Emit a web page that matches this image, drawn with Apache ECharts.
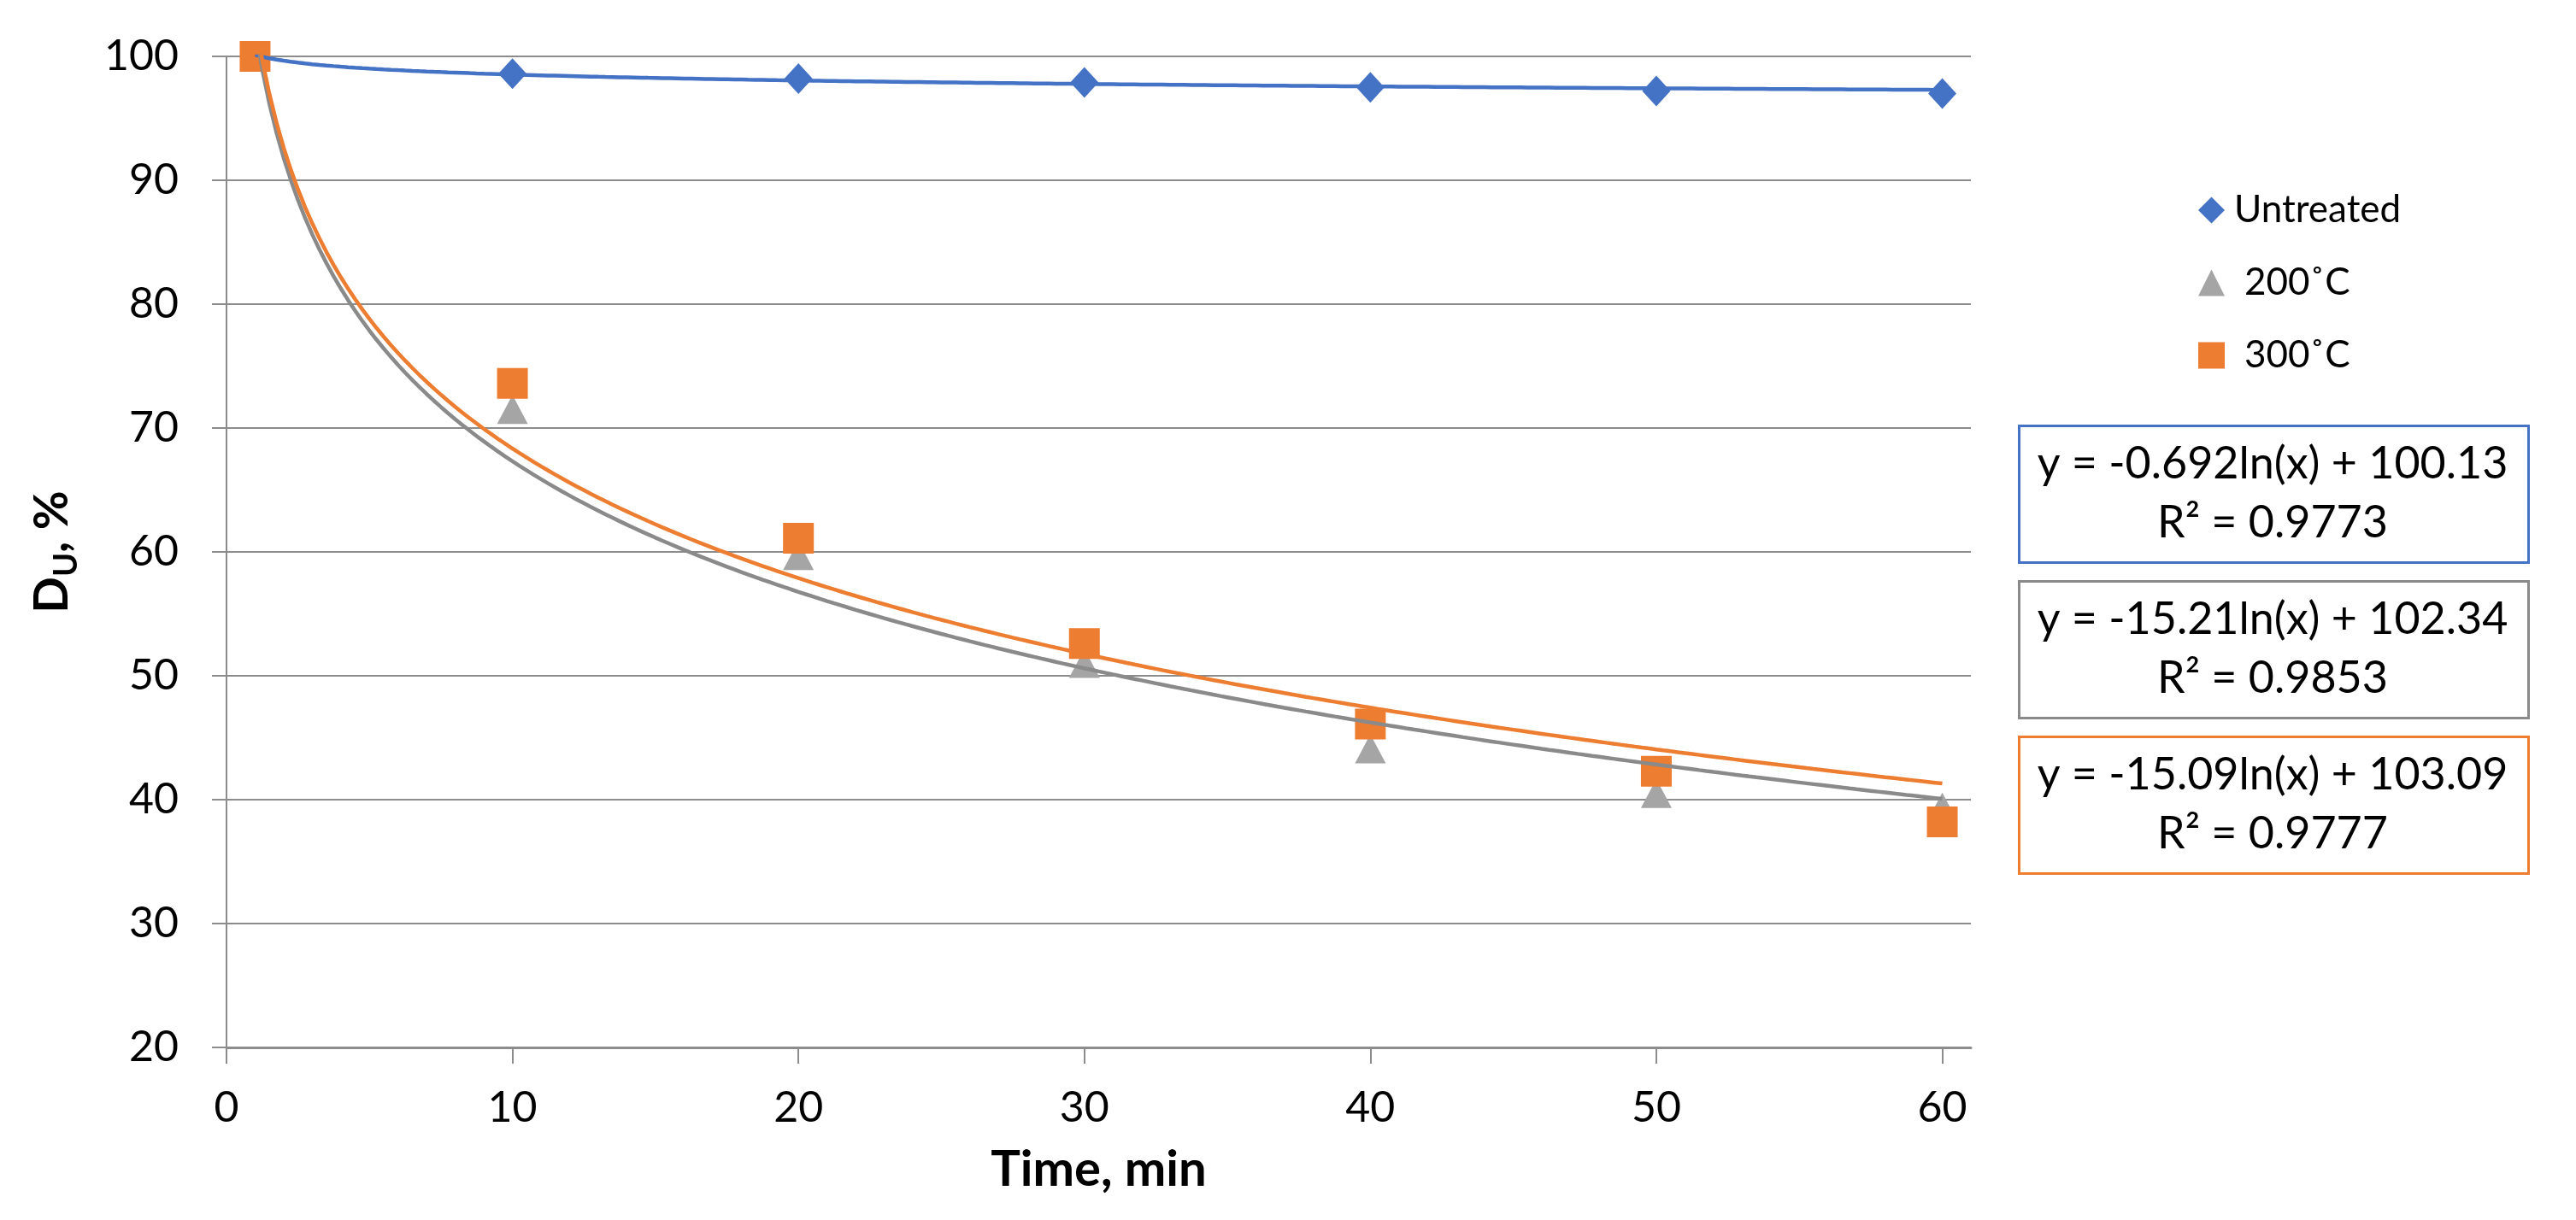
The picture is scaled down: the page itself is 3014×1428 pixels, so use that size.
<!DOCTYPE html>
<html>
<head>
<meta charset="utf-8">
<script src="https://cdn.jsdelivr.net/npm/echarts@6/dist/echarts.min.js"></script>
<style>
html,body{margin:0;padding:0;background:#fff;}
#chart{width:3014px;height:1428px;}
</style>
</head>
<body>
<div id="chart"></div>
<script>
// ---- data ----
const timeMin = [1, 10, 20, 30, 40, 50, 60];
const untreated = [100, 98.6, 98.2, 97.9, 97.5, 97.2, 97.0];
const t200 = [100, 71.5, 59.7, 51.0, 44.1, 40.5, 39.4];
const t300 = [100, 73.6, 61.1, 52.6, 46.1, 42.3, 38.2];
const seriesNames = ['Untreated', '200\u02DAC', '300\u02DAC'];
const trendSlope = [-0.692, -15.21, -15.09];
const trendIntercept = [100.13, 102.34, 103.09];
const trendR2 = [0.9773, 0.9853, 0.9777];
const xTickValues = [0, 10, 20, 30, 40, 50, 60];
const yTickValues = [20, 30, 40, 50, 60, 70, 80, 90, 100];
const trendRange = [1, 60];

// ---- styles ----
const colors = ['#4472C4', '#A5A5A5', '#ED7D31'];
const trendColors = ['#4472C4', '#8a8a8a', '#ED7D31'];
const boxColors = ['#4472C4', '#8a8a8a', '#ED7D31'];
const FONT = 'Lato';
const gridColor = '#8c8c8c';

function trendPoints(i) {
  const pts = [];
  for (let x = trendRange[0]; x <= trendRange[1] + 1e-9; x += 0.25) {
    pts.push([x, trendSlope[i] * Math.log(x) + trendIntercept[i]]);
  }
  return pts;
}
function zipXY(xs, ys) { return xs.map((x, k) => [x, ys[k]]); }

const values = [untreated, t200, t300];
const symbols = ['diamond', 'triangle', 'rect'];
const symbolSizes = [[33, 36], [36, 34], [36, 36]];

const series = [];
values.forEach((v, i) => {
  series.push({
    name: seriesNames[i], type: 'scatter', data: zipXY(timeMin, v),
    symbol: symbols[i], symbolSize: symbolSizes[i],
    itemStyle: { color: colors[i], opacity: 1 }, z: 2 + i * 0.01
  });
});
values.forEach((v, i) => {
  series.push({
    name: seriesNames[i] + ' trend', type: 'line', data: trendPoints(i),
    showSymbol: false, symbol: 'none', smooth: false,
    lineStyle: { color: trendColors[i], width: 4.5 },
    z: 5 + i * 0.01, silent: true
  });
});

// equation boxes
const boxX = 2361, boxW = 596, boxH = 160;
const boxTops = [497, 679, 861];
const graphics = [];
boxTops.forEach((top, i) => {
  graphics.push({
    type: 'rect', left: boxX, top: top,
    shape: { width: boxW, height: boxH },
    style: { fill: '#fff', stroke: boxColors[i], lineWidth: 3 }
  });
  const eq = 'y = ' + String(trendSlope[i]) + 'ln(x) + ' + trendIntercept[i].toFixed(2) +
             '\nR\u00B2 = ' + String(trendR2[i]);
  graphics.push({
    type: 'text', x: boxX + boxW / 2, y: top + boxH / 2 + 1,
    style: { text: eq, fontFamily: FONT, fontSize: 52, fill: '#000',
             align: 'center', verticalAlign: 'middle', lineHeight: 69 }
  });
});

const legendText = { fontFamily: FONT, fontSize: 44, color: '#000', lineHeight: 44 };

const chart = echarts.init(document.getElementById('chart'));
chart.setOption({
  animation: false,
  backgroundColor: '#fff',
  grid: { left: 265, right: 708, top: 66, bottom: 202, containLabel: false, outerBoundsMode: 'none' },
  legend: {
    orient: 'vertical', left: 2567, top: 219,
    itemWidth: 31, itemHeight: 31, itemGap: 41,
    data: [
      { name: seriesNames[0], icon: 'diamond', textStyle: Object.assign({ padding: [0, 0, 0, 6] }, legendText) },
      { name: seriesNames[1], icon: 'triangle', textStyle: Object.assign({ padding: [0, 0, 0, 18] }, legendText) },
      { name: seriesNames[2], icon: 'rect', textStyle: Object.assign({ padding: [0, 0, 0, 18] }, legendText) }
    ],
    textStyle: legendText
  },
  xAxis: {
    type: 'value', min: 0, max: 61, interval: 10,
    name: 'Time, min', nameLocation: 'middle', nameGap: 114,
    nameTextStyle: { fontFamily: FONT, fontSize: 58, fontWeight: 'bold', color: '#000' },
    axisLine: { show: true, onZero: false, lineStyle: { color: gridColor, width: 3 } },
    axisTick: { show: true, inside: false, length: 19, customValues: xTickValues, lineStyle: { color: gridColor, width: 2 } },
    axisLabel: { customValues: xTickValues, margin: 46, fontFamily: FONT, fontSize: 50, color: '#000',
                 formatter: v => String(v) },
    splitLine: { show: false }
  },
  yAxis: {
    type: 'value', min: 20, max: 100, interval: 10,
    name: '{d|D}{s|U}{d|, %}', nameLocation: 'middle', nameGap: 168, nameRotate: 90,
    nameTextStyle: {
      fontFamily: FONT, fontWeight: 'bold', color: '#000',
      rich: {
        d: { fontFamily: FONT, fontSize: 56, fontWeight: 'bold', color: '#000', lineHeight: 72, verticalAlign: 'middle' },
        s: { fontFamily: FONT, fontSize: 38, fontWeight: 'bold', color: '#000', lineHeight: 72, verticalAlign: 'bottom' }
      }
    },
    axisLine: { show: true, lineStyle: { color: gridColor, width: 2 } },
    axisTick: { show: true, inside: false, length: 17, lineStyle: { color: gridColor, width: 2 } },
    axisLabel: { margin: 56, fontFamily: FONT, fontSize: 50, color: '#000' },
    splitLine: { show: true, lineStyle: { color: gridColor, width: 2 } }
  },
  series: series,
  graphic: graphics
});
</script>
</body>
</html>
